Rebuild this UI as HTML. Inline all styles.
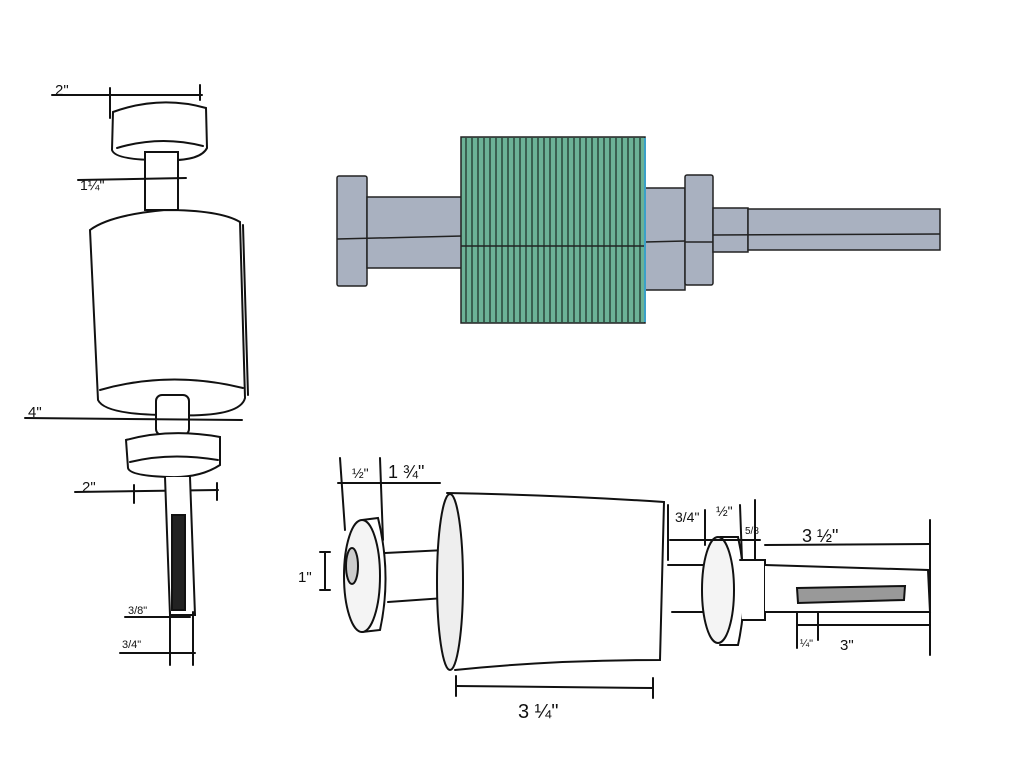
<!DOCTYPE html>
<html><head><meta charset="utf-8"><style>
html,body{margin:0;padding:0;background:#fff;}
svg{display:block;}
text{font-family:"Liberation Sans",sans-serif;fill:#111;}
</style></head><body>
<svg width="1024" height="768" viewBox="0 0 1024 768" xmlns="http://www.w3.org/2000/svg">
<!-- CAD view -->
<g stroke="#222" stroke-width="1.5" fill="#a9b1c0">
<rect x="337" y="176" width="30" height="110" rx="2"/>
<rect x="367" y="197" width="95" height="71"/>
<line x1="337" y1="239" x2="462" y2="236"/>
<rect x="645" y="188" width="40" height="102"/>
<line x1="645" y1="242" x2="685" y2="241"/>
<rect x="685" y="175" width="28" height="110" rx="2"/>
<line x1="685" y1="242" x2="713" y2="242"/>
<rect x="713" y="208" width="35" height="44"/>
<rect x="748" y="209" width="192" height="41"/>
<line x1="713" y1="235" x2="940" y2="234"/>
<rect x="461" y="137" width="184" height="186" fill="#6cb296"/>
<line x1="461" y1="246" x2="645" y2="246"/>
</g>
<g stroke="#1a2a22" stroke-width="1.2">
<line x1="466" y1="138" x2="466" y2="322"/><line x1="472" y1="138" x2="472" y2="322"/><line x1="478" y1="138" x2="478" y2="322"/><line x1="484" y1="138" x2="484" y2="322"/><line x1="490" y1="138" x2="490" y2="322"/><line x1="496" y1="138" x2="496" y2="322"/><line x1="502" y1="138" x2="502" y2="322"/><line x1="508" y1="138" x2="508" y2="322"/><line x1="514" y1="138" x2="514" y2="322"/><line x1="520" y1="138" x2="520" y2="322"/><line x1="526" y1="138" x2="526" y2="322"/><line x1="532" y1="138" x2="532" y2="322"/><line x1="538" y1="138" x2="538" y2="322"/><line x1="544" y1="138" x2="544" y2="322"/><line x1="550" y1="138" x2="550" y2="322"/><line x1="556" y1="138" x2="556" y2="322"/><line x1="562" y1="138" x2="562" y2="322"/><line x1="568" y1="138" x2="568" y2="322"/><line x1="574" y1="138" x2="574" y2="322"/><line x1="580" y1="138" x2="580" y2="322"/><line x1="586" y1="138" x2="586" y2="322"/><line x1="592" y1="138" x2="592" y2="322"/><line x1="598" y1="138" x2="598" y2="322"/><line x1="604" y1="138" x2="604" y2="322"/><line x1="610" y1="138" x2="610" y2="322"/><line x1="616" y1="138" x2="616" y2="322"/><line x1="622" y1="138" x2="622" y2="322"/><line x1="628" y1="138" x2="628" y2="322"/><line x1="634" y1="138" x2="634" y2="322"/><line x1="640" y1="138" x2="640" y2="322"/>
</g>
<line x1="645" y1="138" x2="645" y2="322" stroke="#3aa0c8" stroke-width="2"/>

<!-- left vertical sketch -->
<g stroke="#111" stroke-width="2" fill="#fff" stroke-linecap="round">
<line x1="52" y1="95" x2="202" y2="95"/><line x1="110" y1="88" x2="110" y2="118"/><line x1="200" y1="85" x2="200" y2="100"/>
<path d="M113 112 Q160 95 206 108 L207 148 Q200 162 160 160 Q115 160 112 150 Z"/>
<path d="M117 148 Q160 135 203 146"/>
<rect x="145" y="152" width="33" height="58"/>
<line x1="78" y1="180" x2="186" y2="178"/>
<path d="M90 230 Q110 215 165 210 Q220 210 240 222 L245 398 Q240 418 170 415 Q105 415 98 400 Z"/>
<path d="M100 390 Q170 370 243 388"/>
<line x1="243" y1="225" x2="248" y2="395"/>
<rect x="156" y="395" width="33" height="40" rx="6"/>
<line x1="25" y1="418" x2="242" y2="420"/>
<path d="M126 440 Q170 428 220 437 L220 465 Q200 478 170 477 Q130 476 128 468 Z"/>
<path d="M130 462 Q170 452 218 460"/>
<line x1="75" y1="492" x2="218" y2="490"/><line x1="134" y1="485" x2="134" y2="503"/><line x1="217" y1="483" x2="217" y2="500"/>
<path d="M165 477 L170 615 L195 615 L190 477"/>
<rect x="172" y="515" width="13" height="95" fill="#222"/>
<line x1="125" y1="617" x2="190" y2="617"/><line x1="120" y1="653" x2="195" y2="653"/>
<line x1="170" y1="612" x2="170" y2="665"/><line x1="193" y1="612" x2="193" y2="665"/>
</g>
<text x="55" y="95" font-size="15">2"</text>
<text x="80" y="190" font-size="14">1¼"</text>
<text x="28" y="417" font-size="15">4"</text>
<text x="82" y="492" font-size="15">2"</text>
<text x="128" y="614" font-size="11">3/8"</text>
<text x="122" y="648" font-size="11">3/4"</text>

<!-- bottom horizontal sketch -->
<g stroke="#111" stroke-width="2" fill="#fff" stroke-linecap="round">
<line x1="338" y1="483" x2="440" y2="483"/><line x1="340" y1="458" x2="345" y2="530"/><line x1="380" y1="458" x2="383" y2="540"/>
<path d="M385 553 L445 550 L445 598 L388 602"/>
<path d="M362 520 L378 518 Q392 575 380 630 L362 632"/>
<ellipse cx="362" cy="576" rx="18" ry="56" fill="#f4f4f4"/>
<ellipse cx="352" cy="566" rx="6" ry="18" fill="#ccc"/>
<line x1="320" y1="552" x2="330" y2="552"/><line x1="325" y1="552" x2="325" y2="590"/><line x1="320" y1="590" x2="330" y2="590"/>
<path d="M447 493 Q560 495 664 502 L660 660 Q550 660 455 670"/>
<ellipse cx="450" cy="582" rx="13" ry="88" fill="#eee"/>
<path d="M668 565 L708 565 L708 612 L672 612"/>
<path d="M720 537 L738 537 Q750 590 738 645 L720 645"/>
<ellipse cx="718" cy="590" rx="16" ry="53" fill="#f4f4f4"/>
<path d="M740 560 L765 560 L765 620 L742 620"/>
<path d="M765 565 L928 570 L930 612 L765 612"/>
<path d="M797 588 L905 586 L904 600 L798 603 Z" fill="#999"/>
<line x1="670" y1="540" x2="760" y2="540"/><line x1="705" y1="510" x2="705" y2="545"/><line x1="740" y1="505" x2="742" y2="560"/><line x1="755" y1="500" x2="755" y2="560"/>
<line x1="765" y1="545" x2="930" y2="544"/><line x1="930" y1="520" x2="930" y2="655"/>
<line x1="797" y1="625" x2="930" y2="625"/><line x1="797" y1="612" x2="797" y2="648"/><line x1="818" y1="612" x2="818" y2="640"/>
<line x1="456" y1="686" x2="653" y2="688"/><line x1="456" y1="676" x2="456" y2="696"/><line x1="653" y1="678" x2="653" y2="698"/>
<line x1="668" y1="505" x2="668" y2="560"/>
</g>
<text x="352" y="478" font-size="14">½"</text>
<text x="388" y="478" font-size="18">1 ¾"</text>
<text x="298" y="582" font-size="15">1"</text>
<text x="675" y="522" font-size="14">3/4"</text>
<text x="716" y="516" font-size="14">½"</text>
<text x="745" y="534" font-size="10">5/8</text>
<text x="802" y="542" font-size="18">3 ½"</text>
<text x="800" y="647" font-size="11">¼"</text>
<text x="840" y="650" font-size="15">3"</text>
<text x="518" y="718" font-size="20">3 ¼"</text>
</svg>
</body></html>
